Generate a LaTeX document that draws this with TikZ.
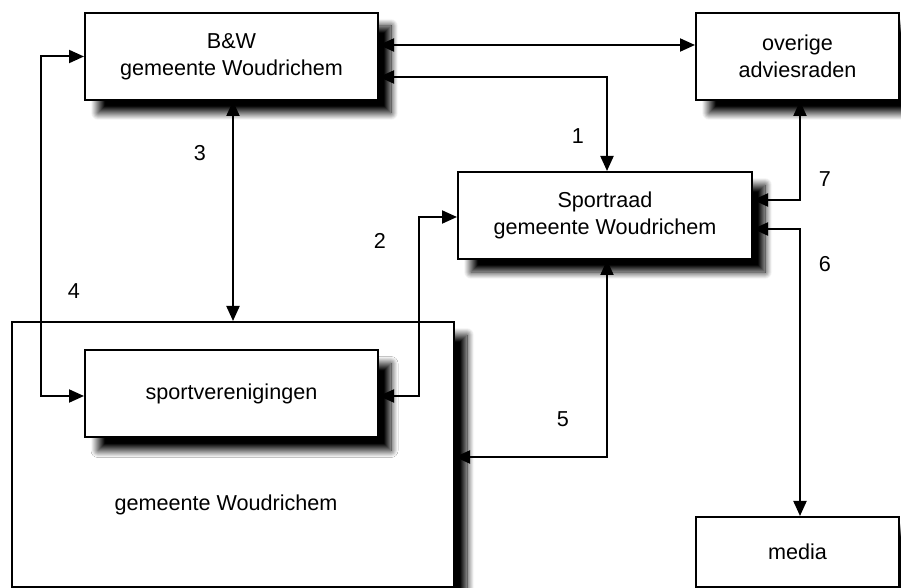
\documentclass[tikz,border=0pt]{standalone}
\usepackage{fontspec}
\setmainfont{Liberation Sans}
\usetikzlibrary{arrows.meta, positioning, shadows.blur}

\tikzset{
  orgbox/.style={draw, line width=1pt, fill=white, align=center,
    font=\fontsize{10.8}{13.5}\selectfont,
    blur shadow={shadow xshift=6.5pt, shadow yshift=-6.5pt, shadow blur radius=3.5pt,
      shadow opacity=100, shadow blur steps=14}},
  link/.style={line width=1pt, {Triangle[length=7.5pt,width=6.5pt]}-{Triangle[length=7.5pt,width=6.5pt]}},
  nummer/.style={font=\fontsize{10.8}{12}\selectfont}
}

\begin{document}
\begin{tikzpicture}[x=0.5pt, y=-0.5pt]
        \useasboundingbox (0,0) rectangle (901,588);

        \node[orgbox, minimum width=442*0.5pt, minimum height=265*0.5pt] (gem) at (233,454.5) {};
        \node[font=\fontsize{10.8}{12}\selectfont] (gemtxt) at (226,505) {gemeente Woudrichem};
        \node[orgbox, minimum width=293*0.5pt, minimum height=87*0.5pt] (sv) at (231.5,394) {sportverenigingen};

        \node[orgbox, minimum width=293*0.5pt, minimum height=87*0.5pt] (bw) at (231.5,56.5) {B\&W\\gemeente Woudrichem};
        \node[orgbox, minimum width=203*0.5pt, minimum height=87*0.5pt] (ovr) at (797.5,56.5) {overige\\adviesraden};
        \node[orgbox, minimum width=294*0.5pt, minimum height=87*0.5pt] (spr) at (605,215.5) {Sportraad\\gemeente Woudrichem};
        \node[orgbox, minimum width=203*0.5pt, minimum height=70*0.5pt] (med) at (797.5,552) {media};

        \draw[link] ([yshift=5.75pt]bw.east) -- ([yshift=5.75pt]ovr.west);
        \draw[link] ([yshift=-10.25pt]bw.east) -| ([xshift=1pt]spr.north);
        \draw[link] ([xshift=0.75pt]bw.south) -- ([xshift=0.75pt]bw.south |- gem.north);
        \draw[link] (bw.west) -- ++(-43,0) |- ([yshift=-1pt]sv.west);
        \draw[link] ([yshift=-1pt]sv.east) -- ++(40,0) |- ([yshift=-0.75pt]spr.west);
        \draw[link] ([xshift=1pt]spr.south) |- ([yshift=-1.25pt]gem.east);
        \draw[link] ([xshift=1.25pt]ovr.south) |- ([yshift=7.75pt]spr.east);
        \draw[link] ([yshift=-6.75pt]spr.east) -| ([xshift=1.25pt]med.north);

        \node[nummer] (n1) at (578,136) {1};
        \node[nummer] (n2) at (380,241) {2};
        \node[nummer] (n3) at (200,153) {3};
        \node[nummer] (n4) at (74,291) {4};
        \node[nummer] (n5) at (563,419) {5};
        \node[nummer] (n6) at (825,264) {6};
        \node[nummer] (n7) at (825,179) {7};
\end{tikzpicture}
\end{document}
